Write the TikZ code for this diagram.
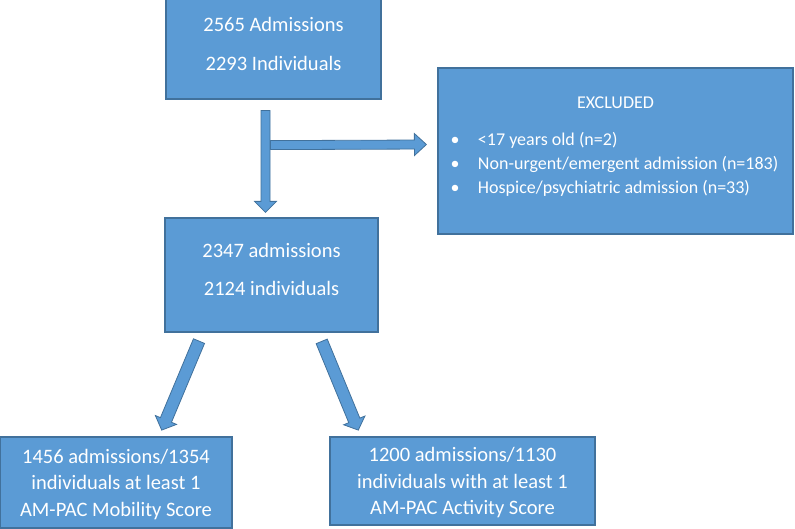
\documentclass[tikz,border=0pt]{standalone}
\usepackage{fontspec}
\setmainfont{Carlito}
\usepackage{tikz}
\usetikzlibrary{
  positioning,
  calc
}
\definecolor{boxblue}{HTML}{5B9BD5}
\definecolor{boxedge}{HTML}{41719C}

% block arrow: tail, tip, half shaft, head length, half head
\newcommand{\blockarrow}[5]{%
  \coordinate (neck) at ($(#2)!#4!(#1)$);
  \filldraw[arrowfill] ($(#1)!#3!90:(#2)$) -- ($(neck)!#3!90:(#2)$)
    -- ($(neck)!#5!90:(#2)$) -- (#2) -- ($(neck)!#5!-90:(#2)$)
    -- ($(neck)!#3!-90:(#2)$) -- ($(#1)!#3!-90:(#2)$) -- cycle;}
\newcommand{\exclitem}[1]{\makebox[355pt][l]{\hspace*{13pt}\makebox[8pt]{\textbullet}\hspace*{19pt}#1}}

\begin{document}
\begin{tikzpicture}[x=1pt,y=-1pt,
    box/.style={draw=boxedge,fill=boxblue,line width=1.2pt,text=white,align=center,inner sep=0pt,font=\fontsize{20.5}{26.5}\selectfont},
    arrowfill/.style={draw=boxedge,fill=boxblue,line width=0.8pt,line join=miter}]
            \useasboundingbox (0,0) rectangle (795,529);
            % boxes
            \node[box,minimum width=215,minimum height=100,text depth=11pt] (admit) at (273.5,49) {2565 Admissions\\[12.5pt]2293 Individuals};
            \node[box,minimum width=213,minimum height=114,text depth=11pt] (cohort) at (271.5,275) {2347 admissions\\[12pt]2124 individuals};
            \node[box,minimum width=355,minimum height=166,text depth=12pt,font=\fontsize{18}{24}\selectfont] (excluded) at (615.5,151)
                {EXCLUDED\\[12.5pt]\exclitem{<17 years old (n=2)}\\\exclitem{Non-urgent/emergent admission (n=183)}\\\exclitem{Hospice/psychiatric admission (n=33)}};
            \node[box,minimum width=232,minimum height=91,text depth=0pt] (mobility) at (116,482.5) {1456 admissions/1354\\individuals at least 1\\AM-PAC Mobility Score};
            \node[box,minimum width=265,minimum height=88,text depth=0pt] (activity) at (462.5,481) {1200 admissions/1130\\individuals with at least 1\\AM-PAC Activity Score};
            % arrow ends
            \coordinate (downtail) at ($(admit.south)+(-8,11)$);
            \coordinate (downtip) at ($(cohort.north)+(-6,-5)$);
            \coordinate (sidetail) at ($(downtail)+(5,34.5)$);
            \coordinate (sidetip) at ($(excluded.west)+(-11,-6.5)$);
            \coordinate (lefttail) at ($(cohort.south)+(-72.5,8.5)$);
            \coordinate (lefttip) at ($(mobility.north)+(45.7,-6.3)$);
            \coordinate (righttail) at ($(cohort.south)+(50.2,8.8)$);
            \coordinate (righttip) at ($(activity.north)+(-104.2,-6.3)$);
            % arrows
            \blockarrow{sidetail}{sidetip}{4.5pt}{12pt}{11pt}
            \blockarrow{downtail}{downtip}{4.5pt}{11pt}{11pt}
            \blockarrow{lefttail}{lefttip}{6pt}{11pt}{11.5pt}
            \blockarrow{righttail}{righttip}{6pt}{10.5pt}{11.5pt}
        \end{tikzpicture}
\end{document}
